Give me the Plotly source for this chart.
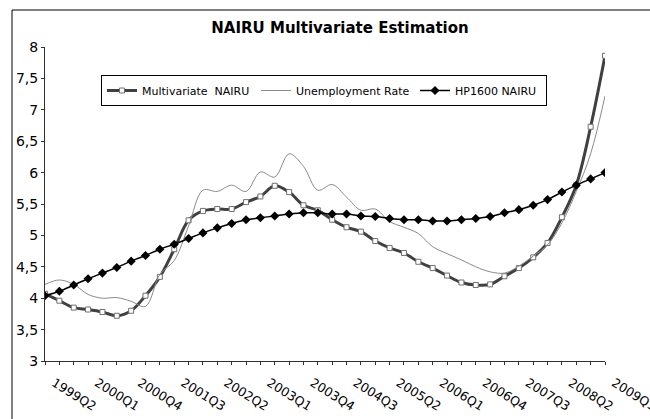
import plotly.graph_objects as go

# Quarterly sample, 1999Q2 .. 2009Q1
quarters = [f"{1999 + (i + 1) // 4}Q{(i + 1) % 4 + 1}" for i in range(40)]
tick_every = 3
tick_idx = list(range(0, 40, tick_every))
tick_text = [quarters[i] for i in tick_idx]

multivariate_nairu = [4.07, 3.96, 3.85, 3.82, 3.78, 3.72, 3.80, 4.04, 4.34, 4.78,
                      5.24, 5.39, 5.42, 5.42, 5.53, 5.62, 5.79, 5.69, 5.48, 5.40,
                      5.25, 5.13, 5.06, 4.91, 4.80, 4.72, 4.58, 4.48, 4.36, 4.25,
                      4.21, 4.22, 4.35, 4.48, 4.65, 4.88, 5.29, 5.80, 6.73, 7.86]

unemployment_rate = [4.22, 4.29, 4.22, 4.06, 4.00, 4.01, 3.95, 3.87, 4.38, 4.60,
                     5.15, 5.72, 5.70, 5.80, 5.70, 6.01, 5.93, 6.30, 6.10, 5.72,
                     5.81, 5.61, 5.40, 5.42, 5.22, 5.13, 5.03, 4.82, 4.71, 4.61,
                     4.50, 4.42, 4.40, 4.51, 4.67, 4.85, 5.20, 5.70, 6.30, 7.22]

hp1600_nairu = [4.04, 4.11, 4.21, 4.31, 4.40, 4.49, 4.59, 4.68, 4.78, 4.86,
                4.95, 5.04, 5.12, 5.19, 5.25, 5.28, 5.31, 5.34, 5.36, 5.36,
                5.34, 5.34, 5.31, 5.30, 5.27, 5.25, 5.25, 5.23, 5.23, 5.25,
                5.27, 5.30, 5.36, 5.41, 5.48, 5.57, 5.69, 5.80, 5.90, 6.00]

x = list(range(len(quarters)))
FONT = "DejaVu Sans, Verdana, sans-serif"

fig = go.Figure()
fig.add_trace(go.Scatter(
    x=x, y=multivariate_nairu, name="Multivariate  NAIRU", mode="lines+markers",
    line=dict(color="#404040", width=3, shape="spline"),
    marker=dict(symbol="square", size=5, color="white",
                line=dict(color="#707070", width=1)),
    legendwidth=109,
    customdata=quarters, hovertemplate="%{customdata}: %{y}<extra></extra>"))
fig.add_trace(go.Scatter(
    x=x, y=unemployment_rate, name="Unemployment Rate", mode="lines",
    line=dict(color="#8a8a8a", width=1, shape="spline"),
    legendwidth=114,
    customdata=quarters, hovertemplate="%{customdata}: %{y}<extra></extra>"))
fig.add_trace(go.Scatter(
    x=x, y=hp1600_nairu, name="HP1600 NAIRU", mode="lines+markers",
    line=dict(color="black", width=1.5, shape="spline"),
    marker=dict(symbol="diamond", size=7, color="black"),
    legendwidth=86,
    customdata=quarters, hovertemplate="%{customdata}: %{y}<extra></extra>"))

axis_col = "#303030"
fig.update_layout(
    width=650, height=419,
    margin=dict(l=45, r=45, t=47, b=58, autoexpand=False),
    paper_bgcolor="white", plot_bgcolor="white",
    separators=", ",
    font=dict(family=FONT, color="black", size=12),
    title=dict(text="<b>NAIRU Multivariate Estimation</b>",
               font=dict(family=FONT, size=15, color="black"),
               x=340 / 650, xref="container", xanchor="center",
               y=1 - 27.5 / 419, yref="container", yanchor="middle"),
    showlegend=True,
    legend=dict(orientation="h", x=(101 - 45) / 560, y=(361 - 75) / 314,
                xanchor="left", yanchor="top",
                bordercolor="black", borderwidth=1, bgcolor="white",
                font=dict(family=FONT, size=11, color="black")),
    xaxis=dict(range=[0, 39], tickvals=tick_idx, ticktext=tick_text,
               tickangle=32, showgrid=False, zeroline=False, automargin=False,
               showline=True, linecolor=axis_col, linewidth=1,
               ticks="outside", ticklen=3, tickcolor=axis_col,
               minor=dict(tickvals=x, ticks="outside", ticklen=3,
                          tickcolor=axis_col),
               ticklabelshift=9, ticklabelstandoff=6,
               ticklabeloverflow="allow",
               tickfont=dict(size=12.5)),
    yaxis=dict(range=[3, 8], dtick=0.5, tick0=3, showgrid=False,
               zeroline=False, automargin=False, showline=True,
               linecolor=axis_col, linewidth=1, ticks="outside", ticklen=3,
               tickcolor=axis_col, tickfont=dict(size=14)),
    # inside tick marks so the ticks cross the axis lines
    xaxis2=dict(overlaying="x", matches="x", anchor="y", side="bottom",
                range=[0, 39], tickvals=x, ticks="inside", ticklen=3,
                tickcolor=axis_col, showticklabels=False, showgrid=False,
                zeroline=False, showline=False, automargin=False),
    yaxis2=dict(overlaying="y", matches="y", anchor="x", side="left",
                range=[3, 8], dtick=0.5, tick0=3, ticks="inside", ticklen=4,
                tickcolor=axis_col, showticklabels=False, showgrid=False,
                zeroline=False, showline=False, automargin=False),
    shapes=[dict(type="rect", xref="paper", yref="paper",
                 x0=(12 - 45) / 560, x1=1.3,
                 y0=-0.3, y1=(361 - 10) / 314,
                 line=dict(color="black", width=1), layer="below")],
)

fig.write_html("out.html")
